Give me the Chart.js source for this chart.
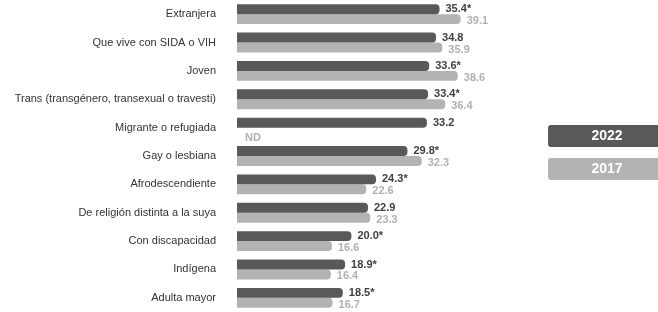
<!DOCTYPE html>
<html>
<head>
<meta charset="utf-8">
<script src="https://cdn.jsdelivr.net/npm/chart.js@4"></script>
<style>
  body { margin: 0; background: #fff; }
  #wrap { width: 658px; height: 312px; position: relative; }
</style>
</head>
<body>
<div id="wrap"><canvas id="discrimChart"></canvas></div>
<script>
// categorias y valores
const categories = ['Extranjera', 'Que vive con SIDA o VIH', 'Joven',
  'Trans (transgénero, transexual o travesti)', 'Migrante o refugiada',
  'Gay o lesbiana', 'Afrodescendiente', 'De religión distinta a la suya',
  'Con discapacidad', 'Indígena', 'Adulta mayor'];
const values2022 = [35.4, 34.8, 33.6, 33.4, 33.2, 29.8, 24.3, 22.9, 20.0, 18.9, 18.5];
const values2017 = [39.1, 35.9, 38.6, 36.4, null, 32.3, 22.6, 23.3, 16.6, 16.4, 16.7];
const labels2022 = ['35.4*', '34.8', '33.6*', '33.4*', '33.2', '29.8*', '24.3*', '22.9', '20.0*', '18.9*', '18.5*'];
const labels2017 = ['39.1', '35.9', '38.6', '36.4', 'ND', '32.3', '22.6', '23.3', '16.6', '16.4', '16.7'];

const darkGray = '#595959';
const lightGray = '#b3b3b3';

// etiquetas al final de cada barra
const valueLabels = {
  id: 'valueLabels',
  afterDatasetsDraw(chart) {
    const ctx = chart.ctx;
    const x0 = chart.scales.x.getPixelForValue(0);
    ctx.save();
    ctx.font = 'bold 11px "Liberation Sans", Arial, sans-serif';
    ctx.textAlign = 'left';
    ctx.textBaseline = 'middle';
    chart.data.datasets.forEach((ds, i) => {
      const meta = chart.getDatasetMeta(i);
      const texts = i === 0 ? labels2022 : labels2017;
      ctx.fillStyle = i === 0 ? '#3f3f3f' : '#b0b0b0';
      meta.data.forEach((bar, j) => {
        let x = bar.x, y = bar.y;
        if (ds.data[j] == null) {
          x = x0 + 2;
          y = chart.scales.y.getPixelForValue(j) + 8;
        }
        ctx.fillText(texts[j], x + 6, y + (i === 0 ? 0 : 2));
      });
    });
    ctx.restore();
  }
};

// leyenda en cajas
const boxLegend = {
  id: 'boxLegend',
  afterDraw(chart) {
    const ctx = chart.ctx;
    const boxes = [
      { text: '2022', color: darkGray, y: 125 },
      { text: '2017', color: lightGray, y: 158 }
    ];
    ctx.save();
    boxes.forEach(b => {
      ctx.fillStyle = b.color;
      ctx.beginPath();
      ctx.roundRect(548, b.y, 118, 22, 3);
      ctx.fill();
      ctx.fillStyle = '#ffffff';
      ctx.font = 'bold 14px "Liberation Sans", Arial, sans-serif';
      ctx.textAlign = 'center';
      ctx.textBaseline = 'middle';
      ctx.fillText(b.text, 607, b.y + 11.5);
    });
    ctx.restore();
  }
};

const ctx = document.getElementById('discrimChart').getContext('2d');
new Chart(ctx, {
  type: 'bar',
  data: {
    labels: categories,
    datasets: [{
      label: '2022',
      data: values2022,
      backgroundColor: darkGray,
      borderRadius: { topRight: 4, bottomRight: 4 },
      borderSkipped: false,
      categoryPercentage: 0.7,
      barPercentage: 1.0
    }, {
      label: '2017',
      data: values2017,
      backgroundColor: lightGray,
      borderRadius: { topRight: 4, bottomRight: 4 },
      borderSkipped: false,
      categoryPercentage: 0.7,
      barPercentage: 1.0
    }]
  },
  options: {
    indexAxis: 'y',
    responsive: true,
    maintainAspectRatio: false,
    animation: false,
    layout: { padding: { top: 0, bottom: 0, left: 0, right: 135 } },
    plugins: {
      legend: { display: false },
      tooltip: { enabled: false }
    },
    scales: {
      x: {
        display: false,
        min: 0,
        max: 50
      },
      y: {
        afterFit(scale) {
          scale.width = 237;
          scale.paddingTop = 0;
          scale.paddingBottom = 0;
        },
        grid: { display: false },
        border: { display: false },
        ticks: {
          padding: 13,
          color: '#333333',
          font: { family: '"Liberation Sans", Arial, sans-serif', size: 11 }
        }
      }
    }
  },
  plugins: [valueLabels, boxLegend]
});
</script>
</body>
</html>
